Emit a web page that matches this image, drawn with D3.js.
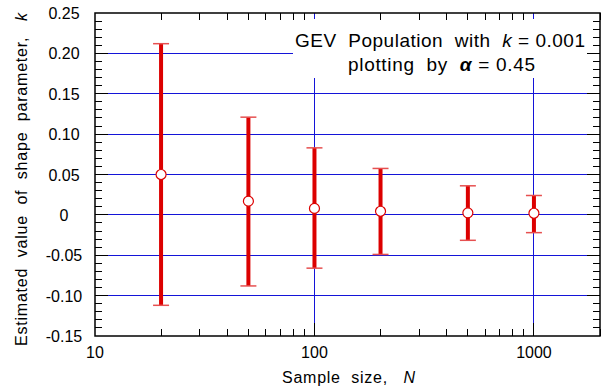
<!DOCTYPE html>
<html>
<head>
<meta charset="utf-8">
<script src="https://cdn.jsdelivr.net/npm/d3@7"></script>
<style>
  html, body { margin: 0; padding: 0; background: #fff; }
  svg { display: block; font-family: "Liberation Sans", Arial, sans-serif; }
</style>
</head>
<body>
<svg id="chart" width="605" height="392"></svg>
<script>
// Sample sizes and the spread of the estimated GEV shape parameter k
const sampleSizes = [20, 50, 100, 200, 500, 1000];
const meanK  = [0.050, 0.017, 0.008, 0.0045, 0.0025, 0.002];
const upperK = [0.212, 0.121, 0.083, 0.0575, 0.036, 0.024];
const lowerK = [-0.112, -0.088, -0.066, -0.049, -0.0315, -0.022];

const yTickValues = [-0.15, -0.10, -0.05, 0, 0.05, 0.10, 0.15, 0.20, 0.25];
const yTickLabels = ["-0.15", "-0.10", "-0.05", "0", "0.05", "0.10", "0.15", "0.20", "0.25"];
const xTickValues = [10, 100, 1000];
const xTickLabels = ["10", "100", "1000"];

const svg = d3.select("#chart");
const plotL = 95, plotR = 600, plotT = 13, plotB = 336;

const x = d3.scaleLog().domain([10, 2000]).range([plotL, plotR]);
const y = d3.scaleLinear().domain([-0.15, 0.25]).range([plotB, plotT]);

const red = "#dc0000", blue = "#1414d8";

// grid lines
const gridY = yTickValues.filter(v => v > -0.15 && v < 0.25);
svg.append("g").selectAll("line").data(gridY).join("line")
  .attr("x1", plotL).attr("x2", plotR)
  .attr("y1", d => y(d)).attr("y2", d => y(d))
  .attr("stroke", blue).attr("stroke-width", 1).attr("shape-rendering", "crispEdges");
svg.append("g").selectAll("line").data([100, 1000]).join("line")
  .attr("x1", d => x(d)).attr("x2", d => x(d))
  .attr("y1", plotT).attr("y2", plotB)
  .attr("stroke", blue).attr("stroke-width", 1).attr("shape-rendering", "crispEdges");

// legend box
svg.append("rect").attr("x", 293).attr("y", 19).attr("width", 300).attr("height", 59)
  .attr("fill", "#fff");

// minor and major ticks
const minorY = d3.range(-15, 26).filter(i => i % 5 !== 0).map(i => i / 100);
const majorY = gridY;
const minorX = [];
[10, 100, 1000].forEach(b => { for (let m = 2; m <= 9; m++) { if (b * m <= 2000) minorX.push(b * m); } });

const ticks = svg.append("g").attr("stroke", "#000").attr("stroke-width", 1).attr("shape-rendering", "crispEdges");
ticks.selectAll(".ml").data(minorY).join("line")
  .attr("x1", plotL).attr("x2", plotL + 7).attr("y1", d => y(d)).attr("y2", d => y(d));
ticks.selectAll(".mr").data(minorY).join("line")
  .attr("x1", plotR - 7).attr("x2", plotR).attr("y1", d => y(d)).attr("y2", d => y(d));
ticks.selectAll(".Ml").data(majorY).join("line")
  .attr("x1", plotL).attr("x2", plotL + 13).attr("y1", d => y(d)).attr("y2", d => y(d));
ticks.selectAll(".Mr").data(majorY).join("line")
  .attr("x1", plotR - 13).attr("x2", plotR).attr("y1", d => y(d)).attr("y2", d => y(d));
ticks.selectAll(".mb").data(minorX).join("line")
  .attr("x1", d => x(d)).attr("x2", d => x(d)).attr("y1", plotB).attr("y2", plotB - 7);
ticks.selectAll(".mt").data(minorX).join("line")
  .attr("x1", d => x(d)).attr("x2", d => x(d)).attr("y1", plotT).attr("y2", plotT + 7);
ticks.selectAll(".Mb").data([100, 1000]).join("line")
  .attr("x1", d => x(d)).attr("x2", d => x(d)).attr("y1", plotB).attr("y2", plotB - 13);

// frame
svg.append("rect").attr("x", plotL).attr("y", plotT)
  .attr("width", plotR - plotL).attr("height", plotB - plotT)
  .attr("fill", "none").attr("stroke", "#000").attr("stroke-width", 1.5);

// tick labels
svg.append("g").selectAll("text").data(yTickValues).join("text")
  .attr("x", 64).attr("y", d => y(d) + 6)
  .attr("text-anchor", "middle").attr("font-size", 16)
  .text((d, i) => yTickLabels[i]);
svg.append("g").selectAll("text").data(xTickValues).join("text")
  .attr("x", d => x(d)).attr("y", 358)
  .attr("text-anchor", "middle").attr("font-size", 16)
  .text((d, i) => xTickLabels[i]);

// axis titles
const xt = svg.append("text").attr("x", 282).attr("y", 383)
  .attr("font-size", 16).attr("textLength", 133).attr("lengthAdjust", "spacing")
  .attr("xml:space", "preserve");
xt.append("tspan").text("Sample  size,   ");
xt.append("tspan").attr("font-style", "italic").text("N");

const yt = svg.append("text").attr("transform", "translate(27,346) rotate(-90)")
  .attr("font-size", 16).attr("textLength", 333).attr("lengthAdjust", "spacing")
  .attr("xml:space", "preserve");
yt.append("tspan").text("Estimated  value  of  shape  parameter,   ");
yt.append("tspan").attr("font-style", "italic").text("k");

// legend text
const legend = svg.append("g").attr("font-size", 19);
const l1 = legend.append("text").attr("x", 295).attr("y", 47)
  .attr("textLength", 290).attr("lengthAdjust", "spacing").attr("xml:space", "preserve");
l1.append("tspan").text("GEV  Population  with  ");
l1.append("tspan").attr("font-style", "italic").text("k");
l1.append("tspan").text(" = 0.001");
const l2 = legend.append("text").attr("x", 348).attr("y", 71)
  .attr("textLength", 187).attr("lengthAdjust", "spacing").attr("xml:space", "preserve");
l2.append("tspan").text("plotting  by  ");
l2.append("tspan").attr("font-style", "italic").attr("font-weight", "bold").text("α");
l2.append("tspan").text(" = 0.45");

// error bars
const pts = sampleSizes.map((n, i) => ({ n, m: meanK[i], lo: lowerK[i], hi: upperK[i] }));
const eb = svg.append("g");
eb.selectAll(".bar").data(pts).join("line")
  .attr("x1", d => x(d.n)).attr("x2", d => x(d.n))
  .attr("y1", d => y(d.lo)).attr("y2", d => y(d.hi))
  .attr("stroke", red).attr("stroke-width", 4);
eb.selectAll(".capHi").data(pts).join("line")
  .attr("x1", d => x(d.n) - 8).attr("x2", d => x(d.n) + 8)
  .attr("y1", d => y(d.hi)).attr("y2", d => y(d.hi))
  .attr("stroke", "#e65050").attr("stroke-width", 1.5);
eb.selectAll(".capLo").data(pts).join("line")
  .attr("x1", d => x(d.n) - 8).attr("x2", d => x(d.n) + 8)
  .attr("y1", d => y(d.lo)).attr("y2", d => y(d.lo))
  .attr("stroke", "#e65050").attr("stroke-width", 1.5);
eb.selectAll("circle").data(pts).join("circle")
  .attr("cx", d => x(d.n)).attr("cy", d => y(d.m)).attr("r", 5)
  .attr("fill", "#fff").attr("stroke", red).attr("stroke-width", 1.2);
</script>
</body>
</html>
